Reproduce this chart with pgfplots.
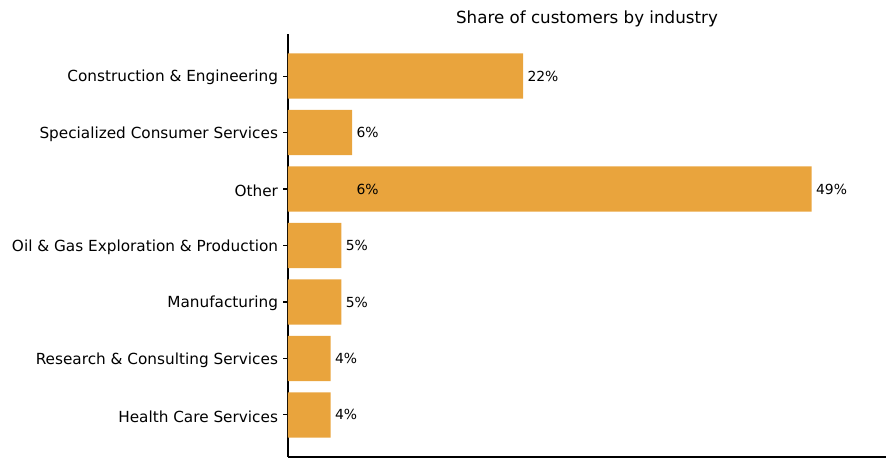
\documentclass[border=0pt]{standalone}
\usepackage{pgfplots}
\pgfplotsset{compat=1.18}
\usepackage{fontspec}
\setmainfont{DejaVu Sans}
\definecolor{barc}{RGB}{233,164,61}
\begin{document}
\begin{tikzpicture}
\begin{axis}[
  scale only axis,
  width=598pt, height=423pt,
  xmin=0, xmax=55.95,
  ymin=-0.745, ymax=6.745,
  axis lines*=left,
  axis line style={black, line width=1.1pt},
  xtick=\empty,
  ytick={0,1,2,3,4,5,6},
  yticklabels={Health Care Services, Research \& Consulting Services, Manufacturing, Oil \& Gas Exploration \& Production, Other, Specialized Consumer Services, Construction \& Engineering},
  tick align=outside,
  major tick length=4.9pt,
  tick style={black, line width=1.1pt},
  yticklabel style={font=\fontsize{15.28}{18}\selectfont, inner sep=0pt, xshift=-4.9pt, yshift=-1.5pt},
  /pgf/number format/assume math mode=true,
  xbar,
  bar width=0.8,
  bar shift=0pt,
  clip=false,
]
\addplot[draw=none, fill=barc,
  nodes near coords={\pgfmathprintnumber{\pgfplotspointmeta}\%},
  point meta=x,
  nodes near coords style={anchor=west, inner sep=0pt, xshift=4.2pt, font=\fontsize{13.9}{16}\selectfont, black},
] coordinates {(4,0) (4,1) (5,2) (5,3) (49,4) (6,5) (22,6)};
\addplot[draw=none, fill=none, bar shift=0pt, forget plot,
  nodes near coords={\pgfmathprintnumber{\pgfplotspointmeta}\%},
  point meta=x,
  nodes near coords style={anchor=west, inner sep=0pt, xshift=4.2pt, font=\fontsize{13.9}{16}\selectfont, black},
] coordinates {(6,4)};
\node[anchor=base, font=\fontsize{16.7}{20}\selectfont, yshift=10.6pt] at (rel axis cs:0.5,1) {Share of customers by industry};
\end{axis}
\path[use as bounding box] ([xshift=-288pt,yshift=-11pt]current axis.south west) rectangle ([xshift=10pt,yshift=34pt]current axis.north east);
\end{tikzpicture}
\end{document}
